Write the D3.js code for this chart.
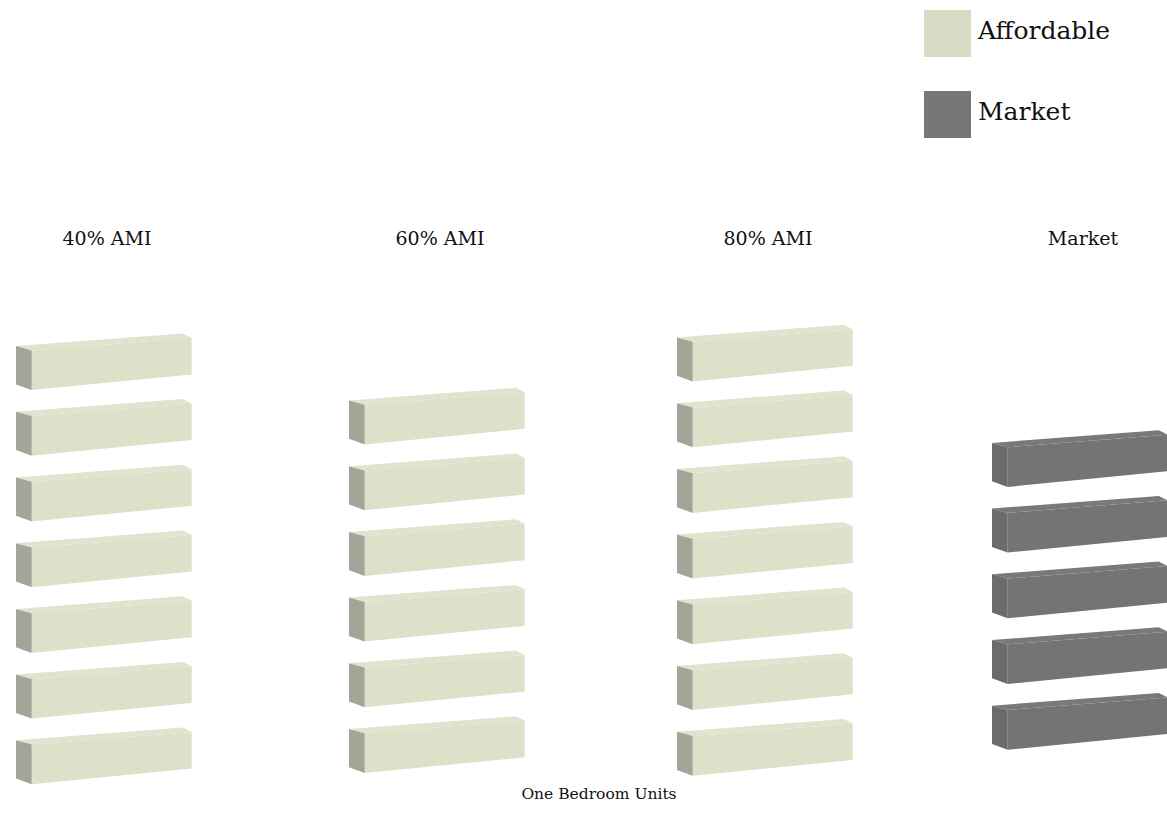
<!DOCTYPE html>
<html>
<head>
<meta charset="utf-8">
<script src="https://cdn.jsdelivr.net/npm/d3@7"></script>
<style>
  html, body { margin: 0; padding: 0; background: #ffffff; }
  svg { display: block; }
  text { font-family: "DejaVu Serif", "Liberation Serif", serif; fill: #111111; }
</style>
</head>
<body>
<svg id="chart" width="1167" height="829"></svg>
<script>
// ---- data ----
const categories = ["40% AMI", "60% AMI", "80% AMI", "Market"];
const units = [7, 6, 7, 5];
const unitType = ["Affordable", "Affordable", "Affordable", "Market"];
const legendLabels = ["Affordable", "Market"];
const axisTitle = "One Bedroom Units";

// ---- layout ----
const W = 1167, H = 829;
const svg = d3.select("#chart");

const colX = d3.scaleOrdinal().domain(categories).range([16, 349, 677, 992]);
const colBase = d3.scaleOrdinal().domain(categories).range([740.3, 729, 731.7, 705.7]);
const stackY = d3.scaleLinear().domain([0, 1]).range([0, -65.7]);

const palette = {
  Affordable: { front: "#dee1ca", side: "#a2a597", top: "#e1e3ce", legend: "#d7dcc4" },
  Market:     { front: "#747474", side: "#6b6b6b", top: "#797979", legend: "#777777" }
};

// block geometry relative to left-face top-left corner
function leftFace(x, y) {
  return [[x, y], [x + 15.7, y + 4.3], [x + 15.7, y + 44], [x, y + 38.3]];
}
function frontFace(x, y) {
  return [[x + 15.7, y + 4.3], [x + 175.7, y - 8.3], [x + 175.7, y + 28.3], [x + 15.7, y + 44]];
}
function topFace(x, y) {
  return [[x, y], [x + 166.7, y - 12.7], [x + 175.7, y - 8.3], [x + 15.7, y + 4.3]];
}
const line = d3.line();

const blocks = [];
categories.forEach((c, ci) => {
  d3.range(units[ci]).forEach(i => {
    blocks.push({ cat: c, type: unitType[ci], i });
  });
});

const g = svg.append("g");
const b = g.selectAll("g.block").data(blocks).join("g").attr("class", "block");
b.append("path")
  .attr("d", d => line(topFace(colX(d.cat), colBase(d.cat) + stackY(d.i))) + "Z")
  .attr("fill", d => palette[d.type].top);
b.append("path")
  .attr("d", d => line(frontFace(colX(d.cat), colBase(d.cat) + stackY(d.i))) + "Z")
  .attr("fill", d => palette[d.type].front);
b.append("path")
  .attr("d", d => line(leftFace(colX(d.cat), colBase(d.cat) + stackY(d.i))) + "Z")
  .attr("fill", d => palette[d.type].side);

// category labels
svg.selectAll("text.cat").data(categories).join("text")
  .attr("class", "cat")
  .attr("x", d => colX(d) + 91)
  .attr("y", 245)
  .attr("text-anchor", "middle")
  .style("font-size", "19px")
  .text(d => d);

// axis title
svg.append("text")
  .attr("x", 599)
  .attr("y", 799)
  .attr("text-anchor", "middle")
  .style("font-size", "15.5px")
  .text(axisTitle);

// legend
const legY = d3.scalePoint().domain(legendLabels).range([10, 91]);
const leg = svg.selectAll("g.leg").data(legendLabels).join("g").attr("class", "leg")
  .attr("transform", d => `translate(924,${legY(d)})`);
leg.append("rect").attr("width", 47).attr("height", 47)
  .attr("fill", d => palette[d].legend);
leg.append("text").attr("x", 54).attr("y", 29)
  .style("font-size", "25px")
  .text(d => d);
</script>
</body>
</html>
